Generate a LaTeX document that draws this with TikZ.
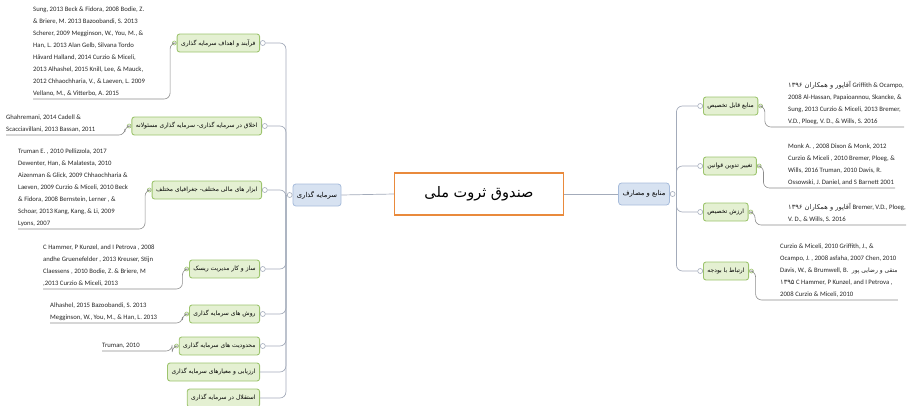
\documentclass[tikz,border=0pt]{standalone}
\usepackage{fontspec}
\setmainfont{Carlito}
\newfontfamily\fa[Script=Arabic]{DejaVu Sans}
\TeXXeTstate=1
\usepackage{tikz}
\usetikzlibrary{positioning}

\definecolor{leafgreen}{HTML}{E4F0D2}
\definecolor{leafedge}{HTML}{9DC46E}
\definecolor{hubblue}{HTML}{D7E2F1}
\definecolor{hubedge}{HTML}{A7BCDB}
\definecolor{rootedge}{HTML}{E98A3C}
\definecolor{wirecol}{HTML}{A3ABBA}

\newcommand{\rtl}[1]{{\fa\beginR #1\endR}}

\begin{document}
\begin{tikzpicture}[x=1pt,y=-1pt,
    root/.style={draw=rootedge,line width=1.3pt,fill=white,minimum width=169pt,minimum height=42pt,font=\fa\fontsize{14.5}{16}\selectfont},
    hub/.style={draw=hubedge,fill=hubblue,rounded corners=3pt,line width=0.8pt,minimum height=22pt,inner xsep=4pt,font=\fa\fontsize{6.8}{8}\selectfont},
    topic/.style={draw=leafedge,fill=leafgreen,rounded corners=2.5pt,line width=0.9pt,minimum height=18pt,inner xsep=4pt,font=\fa\fontsize{6}{8}\selectfont},
    refs/.style={align=left,inner xsep=0pt,inner ysep=2pt,text=black!85,font=\fontsize{6.7}{12}\selectfont},
    knob/.style={circle,draw=wirecol,fill=white,inner sep=0pt,minimum size=5pt,line width=0.6pt},
    gknob/.style={circle,draw=leafedge,fill=white,inner sep=0pt,minimum size=4pt,line width=0.6pt},
    wire/.style={draw=wirecol,line width=0.7pt,rounded corners=6pt},
    uline/.style={draw=black!45,line width=0.6pt,rounded corners=6pt}]
\useasboundingbox (0,0) rectangle (914,405);

% center and the two hubs
\node[root] (fund) at (479,194) {\beginR صندوق ثروت ملی\endR};
\node[hub] (invest) at (317,195) {\beginR سرمایه گذاری\endR};
\node[hub] (flows) at (644,194) {\beginR منابع و مصارف\endR};
\node[knob,left=0pt of invest] (investk) {};
\node[knob,right=0pt of flows] (flowsk) {};
\coordinate (ltrunk) at ([xshift=-1pt]investk.west);
\coordinate (rtrunk) at ([xshift=1pt]flowsk.east);

\draw[wire] (fund.west) -- (invest.east);
\draw[wire] (fund.east) -- (flows.west);

% left topics
\node[topic,anchor=east] (aims) at (260,43) {\beginR فرآیند و اهداف سرمایه گذاری\endR};
\node[topic,anchor=east] (ethics) at (262,126) {\beginR اخلاق در سرمایه گذاری- سرمایه گذاری مسئولانه\endR};
\node[topic,anchor=east] (tools) at (262,190) {\beginR ابزار های مالی مختلف- جغرافیای مختلف\endR};
\node[topic,anchor=east] (risk) at (260,269) {\beginR ساز و کار مدیریت ریسک\endR};
\node[topic,anchor=east] (methods) at (260,314) {\beginR روش های سرمایه گذاری\endR};
\node[topic,anchor=east] (limits) at (260,346) {\beginR محدودیت های سرمایه گذاری\endR};
\node[topic,anchor=east] (assess) at (260,372) {\beginR ارزیابی و معیارهای سرمایه گذاری\endR};
\node[topic,anchor=east] (indep) at (260,398) {\beginR استقلال در سرمایه گذاری\endR};

\node[knob,right=0pt of aims] (aimsk) {};
\node[knob,right=0pt of ethics] (ethicsk) {};
\node[knob,right=0pt of tools] (toolsk) {};
\node[knob,right=0pt of risk] (riskk) {};
\node[knob,right=0pt of methods] (methodsk) {};
\node[knob,right=0pt of limits] (limitsk) {};

\draw[wire] (investk.west) -- (ltrunk);
\draw[wire] (ltrunk) |- (aimsk.east);
\draw[wire] (ltrunk) |- (ethicsk.east);
\draw[wire] (ltrunk) |- (toolsk.east);
\draw[wire] (ltrunk) |- (riskk.east);
\draw[wire] (ltrunk) |- (methodsk.east);
\draw[wire] (ltrunk) |- (limitsk.east);
\draw[wire] (ltrunk) |- (assess.east);
\draw[wire] (ltrunk) |- (indep.east);

% left references
\node[refs,anchor=south west] (aimsref) at (33,99) {Sung, 2013 Beck \& Fidora, 2008 Bodie, Z.\\
\& Briere, M. 2013 Bazoobandi, S. 2013\\
Scherer, 2009 Megginson, W., You, M., \&\\
Han, L. 2013 Alan Gelb, Silvana Tordo\\
Håvard Halland, 2014 Curzio \& Miceli,\\
2013 Alhashel, 2015 Knill, Lee, \& Mauck,\\
2012 Chhaochharia, V., \& Laeven, L. 2009\\
Vellano, M., \& Vitterbo, A. 2015};
\node[refs,anchor=south west] (ethicsref) at (6,135) {Ghahremani, 2014 Cadell \&\\
Scacciavillani, 2013 Bassan, 2011};
\node[refs,anchor=south west] (toolsref) at (18,229) {Truman E. , 2010 Pellizzola, 2017\\
Dewenter, Han, \& Malatesta, 2010\\
Aizenman \& Glick, 2009 Chhaochharia \&\\
Laeven, 2009 Curzio \& Miceli, 2010 Beck\\
\& Fidora, 2008 Bernstein, Lerner , \&\\
Schoar, 2013 Kang, Kang, \& Li, 2009\\
Lyons, 2007};
\node[refs,anchor=south west] (riskref) at (43,289) {C Hammer, P Kunzel, and I Petrova , 2008\\
andhe Gruenefelder , 2013 Kreuser, Stijn\\
Claessens , 2010 Bodie, Z. \& Briere, M\\
,2013 Curzio \& Miceli, 2013};
\node[refs,anchor=south west] (methodsref) at (50,323) {Alhashel, 2015 Bazoobandi, S. 2013\\
Megginson, W., You, M., \& Han, L. 2013};
\node[refs,anchor=south west] (limitsref) at (102,351) {Truman, 2010};

\node[gknob,left=0pt of aims] (aimsg) {};
\node[gknob,left=0pt of ethics] (ethicsg) {};
\node[gknob,left=0pt of tools] (toolsg) {};
\node[gknob,left=0pt of risk] (riskg) {};
\node[gknob,left=0pt of methods] (methodsg) {};
\node[gknob,left=0pt of limits] (limitsg) {};

\draw[uline] (aimsg.west) -- ++(-2,0) |- (aimsref.south west);
\draw[uline] (ethicsg.west) -- ++(-2,0) |- (ethicsref.south west);
\draw[uline] (toolsg.west) -- ++(-2,0) |- (toolsref.south west);
\draw[uline] (riskg.west) -- ++(-2,0) |- (riskref.south west);
\draw[uline] (methodsg.west) -- ++(-2,0) |- (methodsref.south west);
\draw[uline] (limitsg.west) -- ++(-2,0) |- (limitsref.south west);

% right topics
\node[topic,anchor=west] (alloc) at (703,106) {\beginR منابع قابل تخصیص\endR};
\node[topic,anchor=west] (laws) at (703,166) {\beginR تغییر تدوین قوانین\endR};
\node[topic,anchor=west] (value) at (703,212) {\beginR ارزش تخصیص\endR};
\node[topic,anchor=west] (budget) at (703,271) {\beginR ارتباط با بودجه\endR};

\node[knob,left=0pt of alloc] (allock) {};
\node[knob,left=0pt of laws] (lawsk) {};
\node[knob,left=0pt of value] (valuek) {};
\node[knob,left=0pt of budget] (budgetk) {};

\draw[wire] (rtrunk) |- (allock.west);
\draw[wire] (rtrunk) |- (lawsk.west);
\draw[wire] (rtrunk) |- (valuek.west);
\draw[wire] (rtrunk) |- (budgetk.west);

% right references
\node[refs,anchor=south west] (allocref) at (788,127) {\rtl{آقاپور و همکاران ۱۳۹۶} Griffith \& Ocampo,\\
2008 Al-Hassan, Papaioannou, Skancke, \&\\
Sung, 2013 Curzio \& Miceli, 2013 Bremer,\\
V.D., Ploeg, V. D., \& Wills, S. 2016};
\node[refs,anchor=south west] (lawsref) at (788,188) {Monk A. , 2008 Dixon \& Monk, 2012\\
Curzio \& Miceli , 2010 Bremer, Ploeg, \&\\
Wills, 2016 Truman, 2010 Davis, R.\\
Ossowski, J. Daniel, and S Barnett 2001};
\node[refs,anchor=south west] (valueref) at (788,225) {\rtl{آقاپور و همکاران ۱۳۹۶} Bremer, V.D., Ploeg,\\
V. D., \& Wills, S. 2016};
\node[refs,anchor=south west] (budgetref) at (780,300) {Curzio \& Miceli, 2010 Griffith, J., \&\\
Ocampo, J. , 2008 asfaha, 2007 Chen, 2010\\
Davis, W., \& Brumwell, B.\hspace{0.5em}{\fontsize{6}{12}\selectfont\rtl{متقی و رضایی پور}}\\
\rtl{۱۳۹۵} C Hammer, P Kunzel, and I Petrova ,\\
2008 Curzio \& Miceli, 2010};

\node[gknob,right=0pt of alloc] (allocg) {};
\node[gknob,right=0pt of laws] (lawsg) {};
\node[gknob,right=0pt of value] (valueg) {};
\node[gknob,right=0pt of budget] (budgetg) {};

\draw[uline] (allocg.east) -- ++(2,0) |- (allocref.south east);
\draw[uline] (lawsg.east) -- ++(2,0) |- (lawsref.south east);
\draw[uline] (valueg.east) -- ++(2,0) |- (valueref.south east);
\draw[uline] (budgetg.east) -- ++(2,0) |- (budgetref.south east);
\end{tikzpicture}
\end{document}
